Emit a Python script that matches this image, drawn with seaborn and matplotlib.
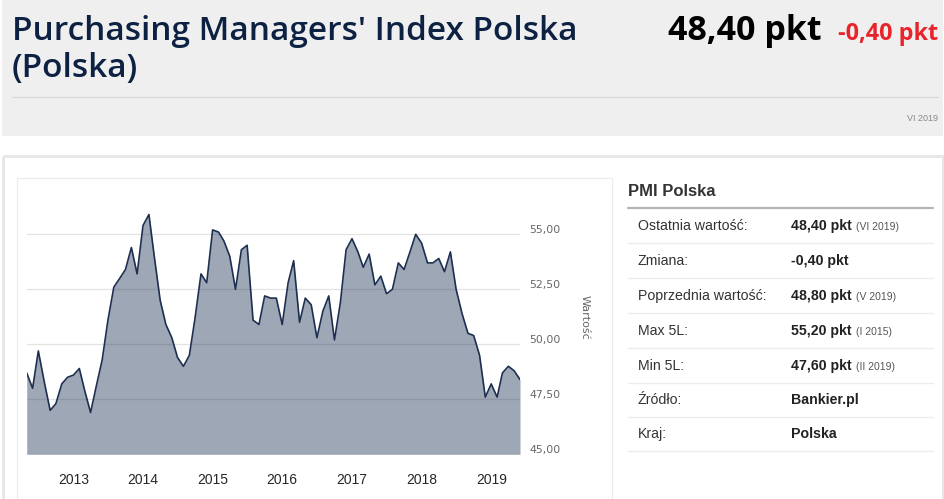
import pandas as pd
import matplotlib.pyplot as plt
import seaborn as sns
from matplotlib.patches import Rectangle
from matplotlib.transforms import ScaledTranslation

# PMI Polska, monthly values (May 2012 - Jun 2019)
pmi_2012 = [48.7, 48.0, 49.7, 48.3, 47.0, 47.3, 48.2, 48.5]
pmi_2013 = [48.6, 48.9, 47.9, 46.9, 48.1, 49.3, 51.1, 52.6, 53.0, 53.4, 54.4, 53.2]
pmi_2014 = [55.4, 55.9, 54.0, 52.0, 50.9, 50.3, 49.4, 49.0, 49.5, 51.2, 53.2, 52.8]
pmi_2015 = [55.2, 55.1, 54.7, 54.0, 52.5, 54.3, 54.5, 51.1, 50.9, 52.2, 52.1, 52.1]
pmi_2016 = [50.9, 52.8, 53.8, 51.0, 52.1, 51.8, 50.3, 51.5, 52.2, 50.2, 51.9, 54.3]
pmi_2017 = [54.8, 54.2, 53.5, 54.1, 52.7, 53.1, 52.3, 52.5, 53.7, 53.4, 54.2, 55.0]
pmi_2018 = [54.6, 53.7, 53.7, 53.9, 53.3, 54.2, 52.5, 51.4, 50.5, 50.4, 49.5, 47.6]
pmi_2019 = [48.2, 47.6, 48.7, 49.0, 48.8, 48.4]

years = ["2013", "2014", "2015", "2016", "2017", "2018", "2019"]
y_ticks = [45.0, 47.5, 50.0, 52.5, 55.0]

# table on the right
row_labels = ["Ostatnia wartość:", "Zmiana:", "Poprzednia wartość:", "Max 5L:",
              "Min 5L:", "Źródło:", "Kraj:"]
row_values = ["48,40 pkt", "-0,40 pkt", "48,80 pkt", "55,20 pkt",
              "47,60 pkt", "Bankier.pl", "Polska"]
row_notes = ["(VI 2019)", "", "(V 2019)", "(I 2015)", "(II 2019)", "", ""]

values = pmi_2012 + pmi_2013 + pmi_2014 + pmi_2015 + pmi_2016 + pmi_2017 + pmi_2018 + pmi_2019
dates = pd.date_range("2012-05-01", periods=len(values), freq="MS")
df = pd.DataFrame({"data": dates, "wartosc": values})

sns.set_style("white")
plt.rcParams['font.family'] = ['Liberation Sans', 'DejaVu Sans']

W, H = 945, 499
fig = plt.figure(figsize=(W / 100, H / 100), dpi=100)

# page background drawn in pixel coordinates
bg = fig.add_axes([0, 0, 1, 1])
bg.set_xlim(0, W)
bg.set_ylim(H, 0)
bg.axis('off')

bg.add_patch(Rectangle((2, 0), 941, 136, color='#efefef', lw=0))
bg.plot([12, 938], [97, 97], color='#d6d6d6', lw=0.8)
bg.add_patch(Rectangle((3, 156), 940, 360, fill=False, ec='#e6e6e6', lw=2))
bg.add_patch(Rectangle((17, 178), 595, 340, fill=False, ec='#ececec', lw=0.8))

title_font = ['Open Sans', 'DejaVu Sans']
bg.text(12, 39.5, "Purchasing Managers' Index Polska", fontsize=24, fontweight='semibold',
        color='#0d2142', family=title_font, va='baseline')
bg.text(12, 77, "(Polska)", fontsize=24, fontweight='semibold', color='#0d2142',
        family=title_font, va='baseline')
bg.text(822, 39.5, "48,40 pkt", fontsize=24.5, fontweight='bold', color='black',
        family=title_font, va='baseline', ha='right')
bg.text(938, 39.5, "-0,40 pkt", fontsize=16.8, fontweight='bold', color='#e8232a',
        family=title_font, va='baseline', ha='right')
bg.text(938, 118, "VI 2019", fontsize=6.5, color='#888888', va='center', ha='right')

# table
bg.text(628, 191, "PMI Polska", fontsize=12, fontweight='bold', color='#333333', va='center')
bg.plot([628, 933], [207.5, 207.5], color='#b4b4b4', lw=1.6)
row_y = [226, 261, 296, 331, 366, 400, 434]
for i in range(len(row_labels)):
    y = row_y[i]
    bg.text(638, y, row_labels[i], fontsize=10.2, color='#333333', va='center')
    bg.text(791, y, row_values[i], fontsize=10.2, fontweight='bold', color='#222222', va='center')
    if row_notes[i]:
        bg.text(856, y + 1, row_notes[i], fontsize=7.5, color='#555555', va='center')
    bg.plot([628, 933], [y + 17, y + 17], color='#ececec', lw=1)

# Chart
left, right, top, bottom = 26.7, 520, 205, 454.3
ax = fig.add_axes([left / W, (H - bottom) / H, (right - left) / W, (bottom - top) / H])
ax.patch.set_alpha(0)

ax.fill_between(df["data"], df["wartosc"], 45, color='#1f3354', alpha=0.43, lw=0)
sns.lineplot(data=df, x="data", y="wartosc", ax=ax, color='#1c2f50', linewidth=1.2)

ax.set_xlim(dates[0], dates[-1])
ax.set_ylim(45, 45 + (bottom - top) / 22)
ax.set_axisbelow(True)
ax.yaxis.grid(True, color='#e3e3e3', lw=0.9)

ax.set_yticks(y_ticks)
ax.set_yticklabels([f"{v:.2f}".replace(".", ",") for v in y_ticks], fontsize=7.8,
                   color='#666666', family=['DejaVu Sans'])
ax.yaxis.tick_right()
ax.tick_params(axis='y', length=0, pad=6.5)
for lab in ax.get_yticklabels():
    lab.set_transform(lab.get_transform() + ScaledTranslation(0, 0.05, fig.dpi_scale_trans))

ax.set_xticks(pd.to_datetime([y + "-01-01" for y in years]))
ax.set_xticklabels(years, fontsize=7.8, color='#666666', family=['DejaVu Sans'])
ax.spines['bottom'].set_position(('outward', 7.2))
ax.tick_params(axis='x', length=3.6, width=0.8, color='#ccd6eb', direction='out', pad=3)

for s in ax.spines.values():
    s.set_visible(False)
ax.set_xlabel("")
ax.set_ylabel("")

bg.text(585, 317, "Wartość", fontsize=8, color='#666666', rotation=-90,
        va='center', ha='center', family=['DejaVu Sans'])

fig.savefig("out.png", dpi=100)
